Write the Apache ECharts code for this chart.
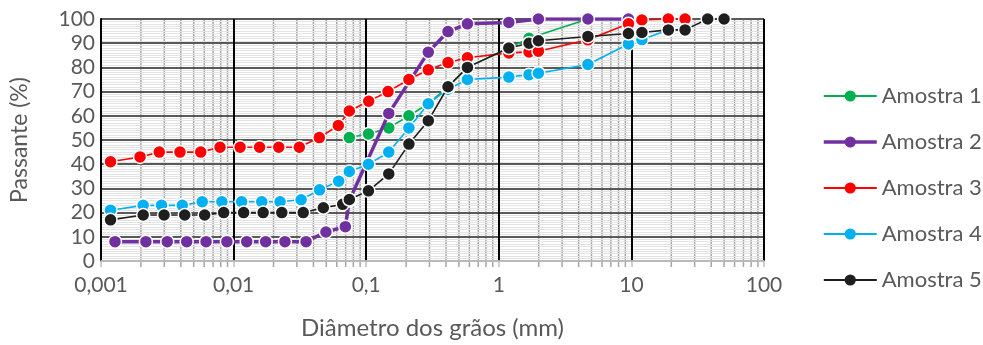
<!DOCTYPE html>
<html><head><meta charset="utf-8">
<script src="https://cdn.jsdelivr.net/npm/echarts@6/dist/echarts.min.js"></script>
<style>html,body{margin:0;padding:0;background:#fff}#c{width:983px;height:345px}</style>
</head><body><div id="c"></div>
<script>
const names = ['Amostra 1','Amostra 2','Amostra 3','Amostra 4','Amostra 5'];
const x1 = [0.0746, 0.104, 0.148, 0.21, 0.294, 0.414, 0.58, 1.19, 1.69, 4.7, 9.5];
const y1 = [51, 52.5, 55, 60, 65, 72, 80, 88, 92, 100, 100];
const x2 = [0.001275, 0.00218, 0.00316, 0.00443, 0.0062, 0.0089, 0.01256, 0.01746, 0.0244, 0.0352, 0.0497, 0.0696, 0.0746, 0.148, 0.294, 0.414, 0.58, 1.19, 1.99, 4.7, 9.5];
const y2 = [8, 8, 8, 8, 8, 8, 8, 8, 8, 8, 12, 14.2, 25, 61, 86.3, 94.8, 98, 98.6, 100, 100, 100];
const x3 = [0.00118, 0.00197, 0.00275, 0.00394, 0.00565, 0.0079, 0.0112, 0.0157, 0.0219, 0.0313, 0.0443, 0.0616, 0.0746, 0.1044, 0.146, 0.21, 0.294, 0.414, 0.58, 1.19, 1.69, 1.99, 4.7, 9.5, 12, 19, 25.4];
const y3 = [41, 43, 45, 45, 45, 47, 47, 47, 47, 47, 51, 56, 62, 66, 70, 75, 79, 82, 84, 86, 86.4, 86.7, 91.4, 98, 99.6, 100, 100];
const x4 = [0.00118, 0.00208, 0.00286, 0.0041, 0.0058, 0.00816, 0.0115, 0.0163, 0.0224, 0.0323, 0.0445, 0.062, 0.0746, 0.104, 0.148, 0.21, 0.294, 0.414, 0.58, 1.19, 1.69, 1.99, 4.7, 9.5, 12, 19, 25.4];
const y4 = [21, 23, 23, 23, 24.5, 24.5, 24.5, 24.5, 24.5, 25.3, 29.4, 33, 37, 40, 45, 55, 65, 71, 75, 76, 77, 77.6, 81.2, 89.7, 91.5, 95.5, 95.5];
const x5 = [0.00118, 0.00208, 0.00299, 0.00428, 0.00605, 0.00842, 0.0119, 0.0167, 0.0231, 0.0335, 0.0475, 0.0665, 0.0746, 0.104, 0.148, 0.21, 0.294, 0.414, 0.58, 1.19, 1.69, 1.99, 4.7, 9.5, 12, 19, 25.4, 37.6, 50];
const y5 = [17, 19, 19, 19, 19, 20, 20, 20, 20, 20, 22, 23.4, 25.4, 29, 36, 48.3, 58, 72, 80, 88, 90, 91, 92.8, 94, 94.4, 95.5, 95.5, 100, 100];
const colors = ['#00b050', '#7030a0', '#ff0000', '#00b0f0', '#1f1f1f'];
const widths = [1.6, 3.5, 1.6, 1.6, 1.6];
const xs = [x1, x2, x3, x4, x5];
const ys = [y1, y2, y3, y4, y5];
const minorX = [];
for (let e = -3; e <= 1; e++) for (let m = 2; m <= 9; m++) minorX.push(Number((m * Math.pow(10, e)).toPrecision(3)));

const FONT = 'Lato';
const series = [{
  type: 'custom', z: 0.5, silent: true, clip: false,
  data: minorX.map(v => [v]),
  renderItem: function (params, api) {
    const top = api.coord([api.value(0), 100]);
    const bot = api.coord([api.value(0), 0]);
    return { type: 'line', shape: { x1: top[0], y1: top[1], x2: bot[0], y2: bot[1] + 6 },
      style: { stroke: '#a6a6a6', lineWidth: 1.5 } };
  }
}];
names.forEach((n, i) => {
  series.push({
    name: n, type: 'line', z: 2 + i,
    data: xs[i].map((x, k) => [x, ys[i][k]]),
    symbol: 'circle', symbolSize: 13,
    lineStyle: { color: colors[i], width: widths[i] },
    itemStyle: { color: colors[i], borderColor: '#ffffff', borderWidth: 1.5 },
    emphasis: { disabled: true }
  });
});

const chart = echarts.init(document.getElementById('c'), null, { renderer: 'canvas' });
chart.setOption({
  animation: false,
  color: colors,
  grid: { left: 101, right: 219, top: 19, bottom: 81, containLabel: false },
  legend: {
    orient: 'vertical', left: 817, top: 80, itemGap: 24, itemWidth: 53, itemHeight: 14,
    textStyle: { fontFamily: FONT, fontSize: 22, color: '#595959' },
    itemStyle: { borderWidth: 0 },
    data: names.map((n, i) => ({ name: n, lineStyle: { width: widths[i] === 3.5 ? 3.5 : 1.8 } }))
  },
  xAxis: {
    type: 'log', logBase: 10, min: 0.001, max: 100, z: 1,
    name: 'Diâmetro dos grãos (mm)', nameLocation: 'middle', nameGap: 55,
    nameTextStyle: { fontFamily: FONT, fontSize: 24, color: '#595959' },
    axisLine: { show: true, lineStyle: { color: '#d9d9d9', width: 1.5 } },
    axisTick: { show: true, length: 6, lineStyle: { color: '#bfbfbf', width: 1.5 } },
    axisLabel: { fontFamily: FONT, fontSize: 21, color: '#595959', margin: 14,
      formatter: v => String(Number(v.toPrecision(6))).replace('.', ',') },
    splitLine: { show: true, lineStyle: { color: '#000000', width: 2 } }
  },
  yAxis: {
    type: 'value', min: 0, max: 100, interval: 10, z: 1,
    name: 'Passante (%)', nameLocation: 'middle', nameGap: 70,
    nameTextStyle: { fontFamily: FONT, fontSize: 23, color: '#595959' },
    axisLine: { show: true, lineStyle: { color: '#000000', width: 2 } },
    axisTick: { show: false },
    axisLabel: { fontFamily: FONT, fontSize: 21, color: '#595959', margin: 6 },
    splitLine: { show: true, lineStyle: { color: '#595959', width: 2 } },
    minorTick: { show: false, splitNumber: 10 },
    minorSplitLine: { show: true, lineStyle: { color: '#e3e3e3', width: 1 } }
  },
  series: series
});
</script></body></html>
